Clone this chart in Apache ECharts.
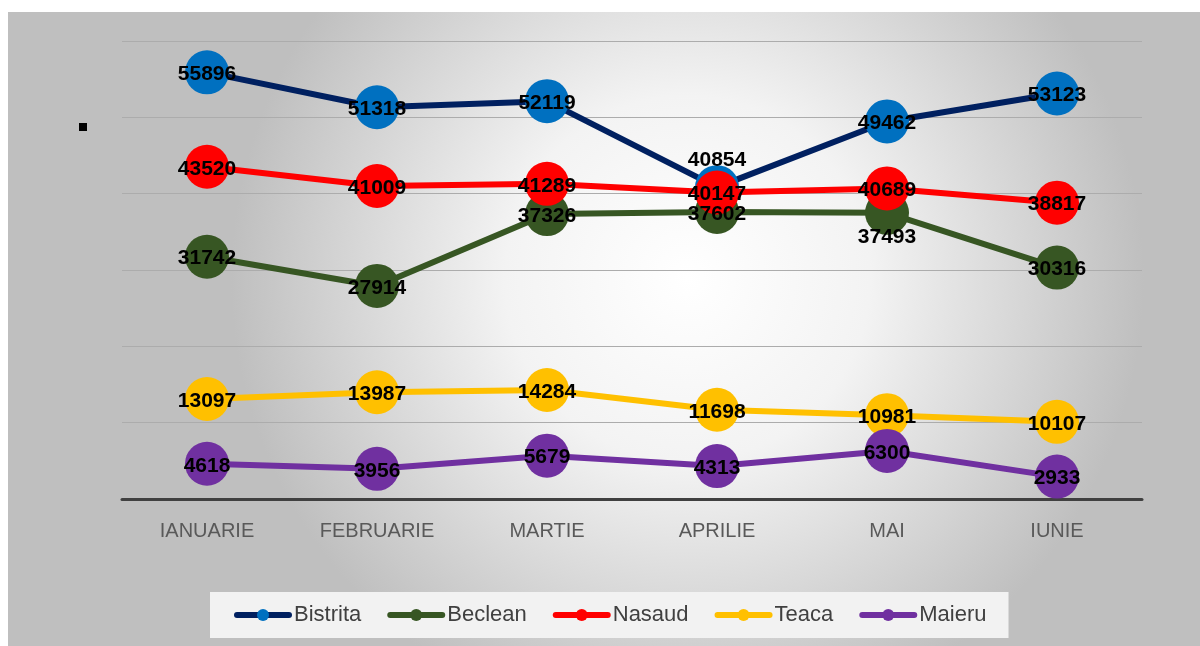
<!DOCTYPE html>
<html>
<head>
<meta charset="utf-8">
<script src="https://cdn.jsdelivr.net/npm/echarts@6/dist/echarts.min.js"></script>
<style>
  html, body { margin: 0; padding: 0; background: #fff; }
  #chart { width: 1200px; height: 646px; }
</style>
</head>
<body>
<div id="chart"></div>
<script>
const months = ['IANUARIE', 'FEBRUARIE', 'MARTIE', 'APRILIE', 'MAI', 'IUNIE'];
const bistrita = [55896, 51318, 52119, 40854, 49462, 53123];
const beclean = [31742, 27914, 37326, 37602, 37493, 30316];
const nasaud = [43520, 41009, 41289, 40147, 40689, 38817];
const teaca = [13097, 13987, 14284, 11698, 10981, 10107];
const maieru = [4618, 3956, 5679, 4313, 6300, 2933];

const font = 'Liberation Sans, Arial, sans-serif';

// a few labels are moved off the marker, like in the original
function withLabels(values, moved) {
  return values.map((v, i) => {
    if (moved[i]) {
      return { value: v, label: { offset: moved[i] } };
    }
    return v;
  });
}

function makeSeries(name, values, lineColor, dotColor, moved) {
  return {
    name: name,
    type: 'line',
    data: withLabels(values, moved || {}),
    symbol: 'circle',
    symbolSize: 44,
    lineStyle: { color: lineColor, width: 6 },
    itemStyle: { color: dotColor },
    label: {
      show: true,
      position: 'inside',
      offset: [0, 2],
      color: '#000',
      fontWeight: 'bold',
      fontSize: 21,
      fontFamily: font
    },
    emphasis: { disabled: true },
    animation: false
  };
}

const chart = echarts.init(document.getElementById('chart'));
chart.setOption({
  backgroundColor: '#ffffff',
  graphic: [
    {
      type: 'rect',
      z: -100,
      shape: { x: 8, y: 12, width: 1192, height: 634 },
      style: {
        fill: new echarts.graphic.RadialGradient(0.57, 0.42, 0.72, [
          { offset: 0, color: '#ffffff' },
          { offset: 0.4, color: '#f3f3f3' },
          { offset: 1, color: '#bfbfbf' }
        ])
      }
    },
    {
      type: 'rect',
      z: 10,
      shape: { x: 79, y: 123, width: 8, height: 8 },
      style: { fill: '#000' }
    }
  ],
  grid: { left: 122, right: 58, top: 41, bottom: 147 },
  legend: {
    bottom: 8,
    left: 210,
    padding: [12, 22, 12, 24],
    backgroundColor: '#f2f2f2',
    itemWidth: 52,
    itemHeight: 15,
    itemGap: 26,
    lineStyle: { width: 6, cap: 'round' },
    textStyle: { color: '#404040', fontSize: 22, fontFamily: font },
    data: ['Bistrita', 'Beclean', 'Nasaud', 'Teaca', 'Maieru']
  },
  xAxis: {
    type: 'category',
    data: months,
    boundaryGap: true,
    axisLine: { lineStyle: { color: '#404040', width: 3 } },
    axisTick: { show: false },
    axisLabel: { color: '#595959', fontSize: 20, fontFamily: font, margin: 22 }
  },
  yAxis: {
    type: 'value',
    min: 0,
    max: 60000,
    interval: 10000,
    axisLine: { show: false },
    axisTick: { show: false },
    axisLabel: { show: false },
    splitLine: { lineStyle: { color: '#acacac', width: 1 } }
  },
  series: [
    makeSeries('Bistrita', bistrita, '#002060', '#0070C0', { 3: [0, -27] }),
    makeSeries('Beclean', beclean, '#375623', '#375623', { 4: [0, 24] }),
    makeSeries('Nasaud', nasaud, '#FF0000', '#FF0000'),
    makeSeries('Teaca', teaca, '#FFC000', '#FFC000'),
    makeSeries('Maieru', maieru, '#7030A0', '#7030A0')
  ]
});
</script>
</body>
</html>
